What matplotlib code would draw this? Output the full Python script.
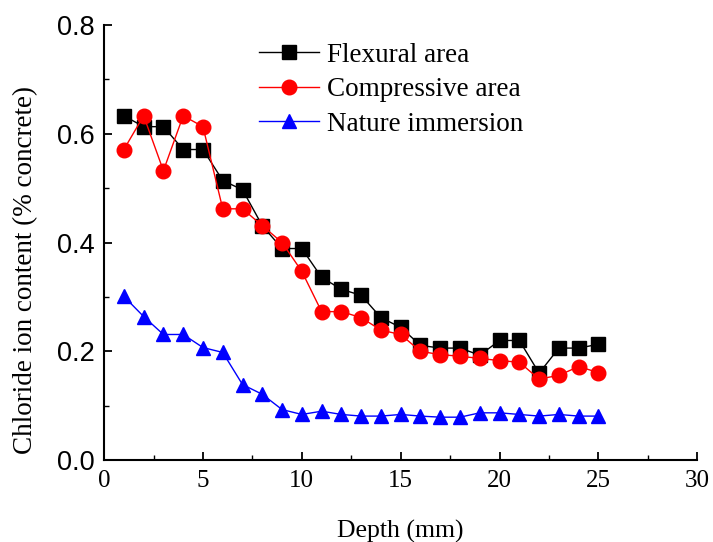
import numpy as np
import matplotlib as mpl
mpl.use("Agg")
import matplotlib.pyplot as plt
from matplotlib.ticker import MultipleLocator, FormatStrFormatter

depth = np.arange(1, 26)

flexural = [0.633, 0.613, 0.613, 0.571, 0.571, 0.514, 0.497, 0.431, 0.389, 0.389,
            0.336, 0.314, 0.303, 0.262, 0.244, 0.211, 0.206, 0.206, 0.193, 0.220,
            0.220, 0.160, 0.206, 0.206, 0.213]
compressive = [0.571, 0.633, 0.532, 0.633, 0.613, 0.462, 0.462, 0.431, 0.400, 0.347,
               0.273, 0.273, 0.262, 0.239, 0.231, 0.200, 0.194, 0.191, 0.187, 0.183,
               0.180, 0.149, 0.156, 0.172, 0.161]
immersion = [0.301, 0.264, 0.231, 0.231, 0.207, 0.198, 0.139, 0.121, 0.093, 0.084,
             0.090, 0.084, 0.081, 0.081, 0.084, 0.081, 0.079, 0.079, 0.087, 0.087,
             0.084, 0.081, 0.084, 0.081, 0.081]

serif = ["Liberation Serif", "DejaVu Serif"]
sans = ["Liberation Sans", "DejaVu Sans"]

fig = plt.figure(figsize=(7.13, 5.42), dpi=100)
ax = fig.add_axes([0.146, 0.151, 0.832, 0.803])

ax.plot(depth, flexural, color="black", marker="s", markersize=9.5, lw=1.0, label="Flexural area")
ax.plot(depth, compressive, color="red", marker="o", markersize=10.5, lw=1.0, label="Compressive area")
ax.plot(depth, immersion, color="blue", marker="^", markersize=10.5, lw=1.0, label="Nature immersion")

ax.set_xlim(0, 30)
ax.set_ylim(0, 0.8)
ax.xaxis.set_major_locator(MultipleLocator(5))
ax.xaxis.set_minor_locator(MultipleLocator(2.5))
ax.yaxis.set_major_locator(MultipleLocator(0.2))
ax.yaxis.set_minor_locator(MultipleLocator(0.1))
ax.yaxis.set_major_formatter(FormatStrFormatter("%.1f"))

for side in ["top", "right"]:
    ax.spines[side].set_visible(False)
for side in ["left", "bottom"]:
    ax.spines[side].set_linewidth(1.5)

ax.tick_params(which="major", direction="in", length=6, width=1.3)
ax.tick_params(which="minor", direction="in", length=3.5, width=1.0)
ax.tick_params(axis="x", pad=7)
ax.tick_params(axis="y", pad=7)

for lbl in ax.get_xticklabels():
    lbl.set_family(serif)
    lbl.set_fontsize(18)
for lbl in ax.get_yticklabels():
    lbl.set_family(sans)
    lbl.set_fontsize(19.5)

ax.set_xlabel("Depth (mm)", family=serif, fontsize=18.5, labelpad=20)
ax.set_ylabel("Chloride ion content (% concrete)", family=serif, fontsize=19.5)
ax.yaxis.set_label_coords(-0.112, 0.437)

leg = ax.legend(loc="upper left", bbox_to_anchor=(0.22, 1.015), frameon=False,
                prop={"family": serif, "size": 19.5}, handlelength=2.2,
                handletextpad=0.3, labelspacing=0.35)

fig.savefig("out.png", dpi=100)
